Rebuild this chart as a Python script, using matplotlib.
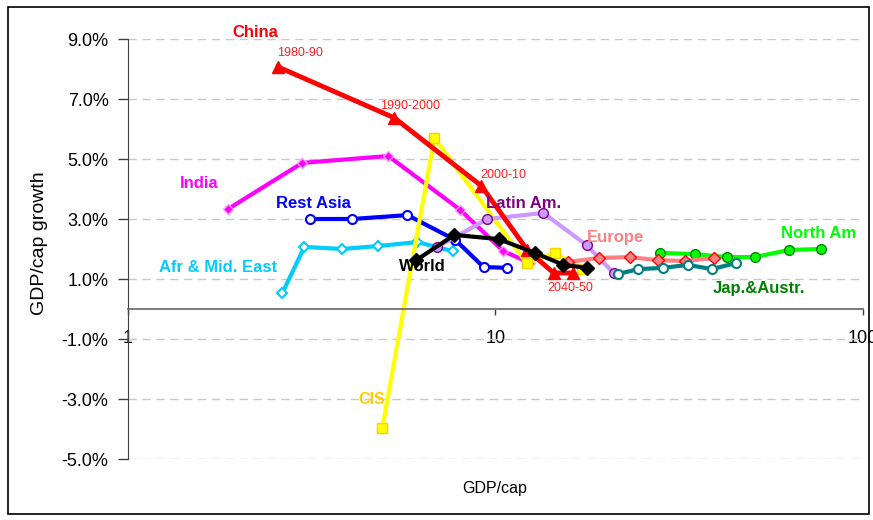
import matplotlib.pyplot as plt
from matplotlib.patches import Rectangle
from matplotlib.ticker import FuncFormatter, NullLocator

plt.rcParams['font.family'] = ['Liberation Sans', 'DejaVu Sans']

# GDP/cap (log scale) and GDP/cap growth (%) per region, one point per decade
china_x = [2.56, 5.31, 9.16, 12.2, 14.4, 16.3]
china_y = [8.07, 6.37, 4.10, 1.97, 1.20, 1.20]

india_x = [1.87, 2.98, 5.11, 8.03, 10.5, 12.45]
india_y = [3.33, 4.87, 5.10, 3.30, 1.93, 1.53]

rest_asia_x = [3.13, 4.08, 5.76, 7.78, 9.28, 10.78]
rest_asia_y = [3.00, 3.00, 3.13, 2.30, 1.40, 1.37]

afr_x = [2.63, 3.02, 3.83, 4.80, 6.13, 7.64]
afr_y = [0.53, 2.07, 2.00, 2.10, 2.23, 1.93]

cis_x = [4.92, 6.82, 12.15, 14.5, 17.2]
cis_y = [-3.97, 5.70, 1.53, 1.87, 1.33]

latin_x = [6.95, 9.51, 13.5, 17.7, 20.97]
latin_y = [2.07, 3.00, 3.20, 2.13, 1.20]

europe_x = [15.8, 19.1, 23.2, 27.6, 32.7, 39.3]
europe_y = [1.57, 1.70, 1.73, 1.63, 1.60, 1.70]

north_am_x = [28.0, 34.9, 42.6, 50.8, 62.9, 76.9]
north_am_y = [1.87, 1.83, 1.73, 1.73, 1.97, 2.00]

jap_x = [21.6, 24.5, 28.5, 33.4, 38.8, 45.1]
jap_y = [1.17, 1.33, 1.37, 1.47, 1.33, 1.53]

world_x = [6.09, 7.73, 10.2, 12.8, 15.3, 17.8]
world_y = [1.63, 2.47, 2.33, 1.87, 1.47, 1.37]

Y_TICKS = [-5, -3, -1, 1, 3, 5, 7, 9]
X_TICKS = [1, 10, 100]
X_TICK_LABELS = ["1", "10", "100"]


fig = plt.figure(figsize=(8.73, 5.2), dpi=100)
ax = fig.add_axes([0.1466, 0.1173, 0.8419, 0.8077])

# series (drawing order matters for overlaps)
ax.plot(afr_x, afr_y, color='#00ccff', lw=3, marker='D', ms=5.5,
        mfc='white', mec='#00ccff', mew=1.5)
ax.plot(rest_asia_x, rest_asia_y, color='#0000ff', lw=3, marker='o', ms=6.5,
        mfc='white', mec='#0000ff', mew=1.5)
ax.plot(india_x, india_y, color='#ff00ff', lw=3, marker='D', ms=5.5,
        mfc='#ff00ff', mec='#ff99ff', mew=1)
ax.plot(cis_x, cis_y, color='#ffff00', lw=3, marker='s', ms=6.5,
        mfc='#ffff00', mec='#ffcc00', mew=1)
ax.plot(latin_x, latin_y, color='#cc99ff', lw=3, marker='o', ms=7,
        mfc='#cc99ff', mec='#800080', mew=1)
ax.plot(north_am_x, north_am_y, color='#00ff00', lw=3, marker='o', ms=7,
        mfc='#00ff00', mec='#008000', mew=1)
ax.plot(europe_x, europe_y, color='#ff8080', lw=3, marker='D', ms=6.5,
        mfc='#ff8080', mec='#ff0000', mew=1)
ax.plot(jap_x, jap_y, color='#008080', lw=3, marker='o', ms=6.5,
        mfc='white', mec='#008080', mew=1.5)
ax.plot(china_x, china_y, color='#ff0000', lw=3.5, marker='^', ms=8.5,
        mfc='#ff0000', mec='#ff0000')
ax.plot(world_x, world_y, color='#000000', lw=3, marker='D', ms=7.5,
        mfc='#000000', mec='#000000')

# region labels
ax.text(2.22, 9.23, "China", color='#ff0000', fontsize=12, fontweight='bold', ha='center', va='center')
ax.text(2.94, 8.53, "1980-90", color='#ff2020', fontsize=9, ha='center', va='center')
ax.text(5.87, 6.77, "1990-2000", color='#ff2020', fontsize=9, ha='center', va='center')
ax.text(10.5, 4.47, "2000-10", color='#ff2020', fontsize=9, ha='center', va='center')
ax.text(16.0, 0.70, "2040-50", color='#ff2020', fontsize=9, ha='center', va='center')
ax.text(1.56, 4.17, "India", color='#ff00ff', fontsize=12, fontweight='bold', ha='center', va='center')
ax.text(3.19, 3.53, "Rest Asia", color='#0000ff', fontsize=12, fontweight='bold', ha='center', va='center')
ax.text(1.76, 1.40, "Afr & Mid. East", color='#00ccff', fontsize=12, fontweight='bold', ha='center', va='center')
ax.text(6.32, 1.43, "World", color='#000000', fontsize=12, fontweight='bold', ha='center', va='center')
ax.text(11.92, 3.53, "Latin Am.", color='#800080', fontsize=12, fontweight='bold', ha='center', va='center')
ax.text(21.2, 2.37, "Europe", color='#ff8080', fontsize=12, fontweight='bold', ha='center', va='center')
ax.text(75.9, 2.53, "North Am", color='#00ff00', fontsize=12, fontweight='bold', ha='center', va='center')
ax.text(52.1, 0.70, "Jap.&Austr.", color='#008000', fontsize=12, fontweight='bold', ha='center', va='center')
ax.text(4.62, -3.03, "CIS", color='#ffcc00', fontsize=11.5, fontweight='bold', ha='center', va='center')

# axes
ax.set_xscale('log')
ax.set_xlim(1, 100)
ax.set_ylim(-5, 9)
ax.set_xticks(X_TICKS)
ax.set_xticklabels(X_TICK_LABELS)
ax.xaxis.set_minor_locator(NullLocator())
ax.set_yticks(Y_TICKS)
ax.yaxis.set_major_formatter(FuncFormatter(lambda v, p: "%.1f%%" % v))
ax.tick_params(axis='y', labelsize=13, length=7, width=1, color='#404040', pad=7)
ax.tick_params(axis='x', labelsize=13, length=4, width=1, color='#404040', pad=11)

ax.spines['top'].set_visible(False)
ax.spines['right'].set_visible(False)
ax.spines['bottom'].set_position(('data', 0))
ax.spines['bottom'].set_color('#707070')
ax.spines['bottom'].set_linewidth(1.3)
ax.spines['left'].set_color('#404040')

ax.yaxis.grid(True, color='#c8c8c8', lw=1, dashes=(6, 4))
ax.set_axisbelow(True)

fig.text(39 / 873, 1 - 243 / 520, "GDP/cap growth", rotation=90, fontsize=14,
         ha='center', va='center')
fig.text(495 / 873, 1 - 489 / 520, "GDP/cap", fontsize=11.5, ha='center', va='center')

# chart border
fig.patches.append(Rectangle((8 / 873, 1 - 514 / 520), 861 / 873, 507 / 520,
                             transform=fig.transFigure, fill=False,
                             edgecolor='black', lw=1.2))

fig.savefig('out.png', dpi=100)
